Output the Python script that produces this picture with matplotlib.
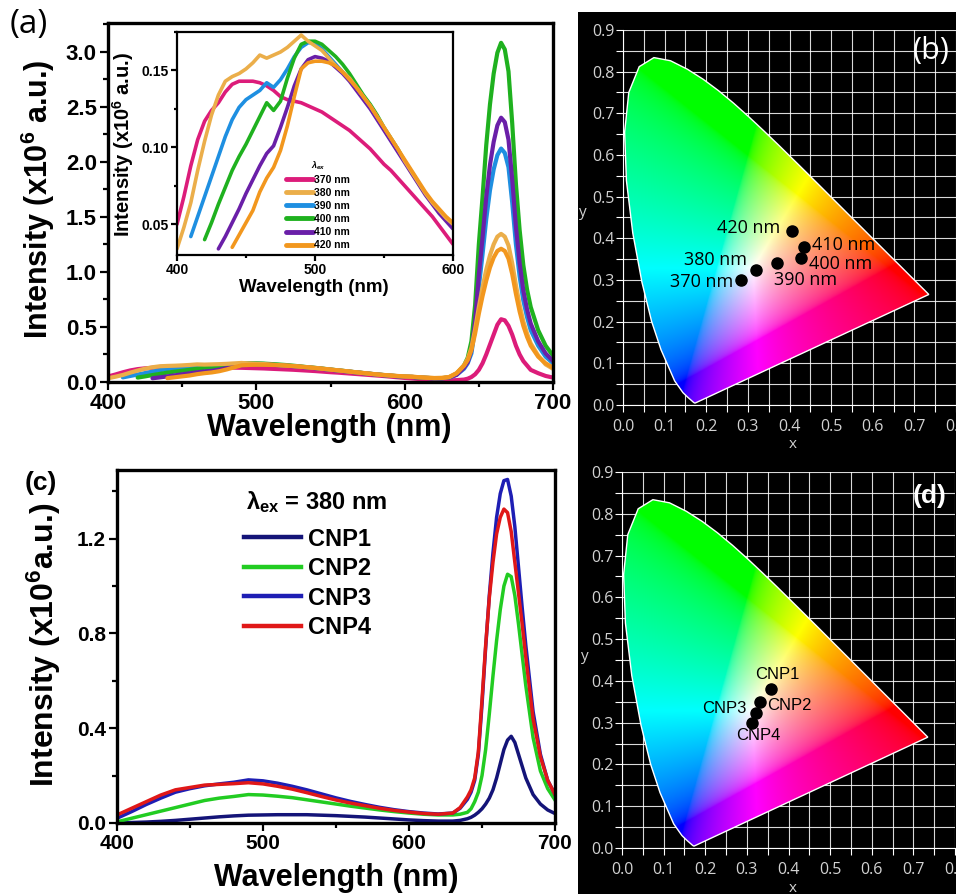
import numpy as np
import matplotlib
matplotlib.use("Agg")
import matplotlib.pyplot as plt
from matplotlib.patches import Polygon, Rectangle
from matplotlib.ticker import MultipleLocator

plt.rcParams['font.family'] = ['Liberation Sans', 'DejaVu Sans']
plt.rcParams['font.weight'] = 'bold'
plt.rcParams['mathtext.fontset'] = 'custom'
plt.rcParams['mathtext.rm'] = 'Liberation Sans'
plt.rcParams['mathtext.bf'] = 'Liberation Sans:bold'
plt.rcParams['mathtext.it'] = 'Liberation Sans:italic'

# ---------------- data: panel (a), PL spectra at different excitation ----------------
ex_labels = ['370 nm', '380 nm', '390 nm', '400 nm', '410 nm', '420 nm']
ex_start = [400, 400, 410, 420, 430, 440]          # first wavelength of each band list (5 nm step up to 600)
band_370 = [0.050, 0.068, 0.088, 0.105, 0.117, 0.124, 0.129, 0.136, 0.141, 0.143, 0.143, 0.143, 0.142, 0.140,
            0.137, 0.133, 0.131, 0.130, 0.129, 0.127, 0.125, 0.123, 0.120, 0.117, 0.114, 0.111, 0.107, 0.103,
            0.099, 0.094, 0.089, 0.085, 0.080, 0.075, 0.070, 0.065, 0.060, 0.055, 0.049, 0.043, 0.037]
band_380 = [0.034, 0.048, 0.064, 0.085, 0.104, 0.121, 0.134, 0.143, 0.146, 0.148, 0.151, 0.155, 0.160, 0.158,
            0.160, 0.162, 0.165, 0.169, 0.173, 0.169, 0.166, 0.163, 0.158, 0.153, 0.149, 0.145, 0.139, 0.133,
            0.127, 0.120, 0.113, 0.106, 0.099, 0.091, 0.084, 0.077, 0.070, 0.064, 0.059, 0.054, 0.050]
band_390 = [0.042, 0.055, 0.068, 0.081, 0.094, 0.107, 0.118, 0.126, 0.131, 0.134, 0.137, 0.142, 0.139, 0.144,
            0.151, 0.159, 0.165, 0.168, 0.168, 0.164, 0.159, 0.154, 0.149, 0.144, 0.138, 0.132, 0.126, 0.119,
            0.112, 0.105, 0.098, 0.091, 0.084, 0.077, 0.070, 0.064, 0.058, 0.053, 0.048]
band_400 = [0.040, 0.051, 0.063, 0.074, 0.085, 0.094, 0.102, 0.111, 0.120, 0.129, 0.124, 0.130, 0.145, 0.158,
            0.167, 0.169, 0.169, 0.167, 0.163, 0.159, 0.154, 0.148, 0.141, 0.134, 0.128, 0.121, 0.113, 0.106,
            0.099, 0.091, 0.084, 0.077, 0.070, 0.064, 0.058, 0.053, 0.049]
band_410 = [0.034, 0.042, 0.051, 0.060, 0.070, 0.079, 0.088, 0.096, 0.101, 0.113, 0.126, 0.140, 0.151, 0.157,
            0.159, 0.158, 0.156, 0.152, 0.148, 0.143, 0.137, 0.131, 0.125, 0.118, 0.111, 0.104, 0.097, 0.090,
            0.083, 0.076, 0.069, 0.063, 0.057, 0.052, 0.047]
band_420 = [0.035, 0.043, 0.051, 0.059, 0.071, 0.080, 0.087, 0.098, 0.114, 0.133, 0.151, 0.155, 0.156, 0.156,
            0.155, 0.153, 0.149, 0.144, 0.139, 0.133, 0.127, 0.120, 0.113, 0.106, 0.099, 0.092, 0.085, 0.078,
            0.071, 0.065, 0.060, 0.055, 0.051]

wl_peak = [605, 610, 615, 620, 625, 630, 635, 640, 642.5, 645, 647.5, 650, 652.5, 655, 657.5, 660, 662.5, 665,
           667.5, 670, 672.5, 675, 677.5, 680, 682.5, 685, 690, 695, 700]
peak_370 = [0.032, 0.027, 0.022, 0.018, 0.016, 0.015, 0.017, 0.022, 0.030, 0.045, 0.070, 0.11, 0.17, 0.25,
            0.34, 0.43, 0.52, 0.57, 0.56, 0.51, 0.43, 0.33, 0.25, 0.19, 0.15, 0.11, 0.08, 0.055, 0.04]
peak_380 = [0.048, 0.043, 0.039, 0.036, 0.037, 0.045, 0.080, 0.15, 0.21, 0.31, 0.48, 0.68, 0.86, 1.02,
            1.15, 1.25, 1.32, 1.345, 1.32, 1.24, 1.08, 0.88, 0.70, 0.55, 0.44, 0.35, 0.24, 0.16, 0.12]
peak_390 = [0.046, 0.041, 0.037, 0.034, 0.034, 0.040, 0.065, 0.12, 0.17, 0.26, 0.49, 0.86, 1.16, 1.48,
            1.74, 1.93, 2.06, 2.12, 2.08, 1.95, 1.63, 1.25, 0.96, 0.74, 0.59, 0.47, 0.33, 0.23, 0.17]
peak_400 = [0.046, 0.041, 0.037, 0.034, 0.034, 0.042, 0.075, 0.15, 0.22, 0.37, 0.70, 1.25, 1.68, 2.15,
            2.52, 2.80, 2.99, 3.08, 3.02, 2.82, 2.35, 1.80, 1.38, 1.06, 0.84, 0.68, 0.47, 0.33, 0.24]
peak_410 = [0.046, 0.041, 0.037, 0.034, 0.034, 0.040, 0.065, 0.13, 0.18, 0.29, 0.55, 0.97, 1.31, 1.68,
            1.97, 2.18, 2.33, 2.40, 2.36, 2.20, 1.84, 1.41, 1.08, 0.83, 0.66, 0.53, 0.37, 0.26, 0.19]
peak_420 = [0.048, 0.043, 0.039, 0.036, 0.037, 0.045, 0.080, 0.15, 0.20, 0.29, 0.44, 0.62, 0.78, 0.92,
            1.04, 1.13, 1.19, 1.21, 1.19, 1.12, 0.98, 0.80, 0.64, 0.51, 0.41, 0.33, 0.23, 0.17, 0.13]

bands = [band_370, band_380, band_390, band_400, band_410, band_420]
peaks = [peak_370, peak_380, peak_390, peak_400, peak_410, peak_420]
ex_colors = ['#DC1C7A', '#EBAE4A', '#1E8FE1', '#1FB11F', '#6A1FA8', '#F2971E']
draw_order = [0, 2, 3, 4, 1, 5]

# ---------------- data: panel (c), CNP1-4 at 380 nm ----------------
wl_c = [400, 410, 420, 430, 440, 450, 460, 470, 480, 490, 500, 510, 520, 530, 540, 550, 560, 570, 580, 590,
        600, 610, 620, 630, 635, 640, 642.5, 645, 647.5, 650, 652.5, 655, 657.5, 660, 662.5, 665, 667.5, 670,
        672.5, 675, 677.5, 680, 685, 690, 695, 700]
cnp_labels = ['CNP1', 'CNP2', 'CNP3', 'CNP4']
cnp1 = [0.0, 0.002, 0.004, 0.007, 0.011, 0.016, 0.021, 0.026, 0.030, 0.033, 0.034, 0.035, 0.035, 0.035, 0.033,
        0.031, 0.028, 0.025, 0.021, 0.017, 0.013, 0.010, 0.008, 0.008, 0.011,
        0.018, 0.024, 0.033, 0.045, 0.06, 0.08, 0.105, 0.14, 0.19, 0.25, 0.31, 0.35, 0.366, 0.34, 0.29, 0.24,
        0.19, 0.12, 0.08, 0.055, 0.04]
cnp2 = [0.005, 0.020, 0.035, 0.050, 0.065, 0.080, 0.095, 0.105, 0.112, 0.120, 0.118, 0.113, 0.107, 0.098, 0.089,
        0.080, 0.071, 0.063, 0.055, 0.048, 0.042, 0.037, 0.034, 0.034, 0.037,
        0.045, 0.06, 0.09, 0.13, 0.20, 0.31, 0.46, 0.62, 0.77, 0.90, 1.00, 1.05, 1.04, 0.96, 0.84, 0.71,
        0.58, 0.36, 0.22, 0.145, 0.097]
cnp3 = [0.020, 0.048, 0.078, 0.105, 0.130, 0.145, 0.157, 0.165, 0.172, 0.182, 0.178, 0.168, 0.155, 0.140, 0.123,
        0.106, 0.091, 0.078, 0.066, 0.056, 0.048, 0.042, 0.038, 0.042, 0.062,
        0.10, 0.13, 0.18, 0.29, 0.50, 0.74, 0.96, 1.14, 1.29, 1.39, 1.445, 1.45, 1.38, 1.25, 1.08, 0.91,
        0.75, 0.47, 0.29, 0.18, 0.12]
cnp4 = [0.034, 0.062, 0.090, 0.118, 0.140, 0.150, 0.160, 0.163, 0.166, 0.170, 0.165, 0.155, 0.143, 0.128, 0.112,
        0.097, 0.084, 0.073, 0.062, 0.053, 0.046, 0.040, 0.037, 0.042, 0.065,
        0.11, 0.14, 0.19, 0.30, 0.52, 0.75, 0.95, 1.10, 1.22, 1.29, 1.325, 1.31, 1.23, 1.10, 0.97, 0.84,
        0.70, 0.44, 0.28, 0.18, 0.12]
cnp_series = [cnp1, cnp2, cnp3, cnp4]
cnp_colors = ['#141478', '#22CC22', '#1E1EB4', '#E01818']

# ---------------- data: CIE 1931 spectral locus and colour coordinates ----------------
locus_x = [0.1741, 0.1738, 0.1733, 0.1726, 0.1714, 0.1689, 0.1644, 0.1566, 0.1440, 0.1241, 0.0913, 0.0687,
           0.0454, 0.0235, 0.0082, 0.0039, 0.0139, 0.0389, 0.0743, 0.1142, 0.1547, 0.1929, 0.2296, 0.2658,
           0.3016, 0.3373, 0.3731, 0.4087, 0.4441, 0.4788, 0.5125, 0.5448, 0.5752, 0.6029, 0.6270, 0.6482,
           0.6658, 0.6801, 0.6915, 0.7006, 0.7079, 0.7140, 0.7190, 0.7230, 0.7260, 0.7300, 0.7320, 0.7347]
locus_y = [0.0050, 0.0049, 0.0048, 0.0048, 0.0051, 0.0069, 0.0109, 0.0177, 0.0297, 0.0578, 0.1327, 0.2007,
           0.2950, 0.4127, 0.5384, 0.6548, 0.7502, 0.8120, 0.8338, 0.8262, 0.8059, 0.7816, 0.7543, 0.7243,
           0.6923, 0.6589, 0.6245, 0.5896, 0.5547, 0.5202, 0.4866, 0.4544, 0.4242, 0.3965, 0.3725, 0.3514,
           0.3340, 0.3197, 0.3083, 0.2993, 0.2920, 0.2859, 0.2809, 0.2770, 0.2740, 0.2700, 0.2680, 0.2653]

cie_b_x = [0.283, 0.319, 0.369, 0.427, 0.436, 0.407]
cie_b_y = [0.301, 0.325, 0.341, 0.353, 0.380, 0.418]
cie_d_x = [0.357, 0.331, 0.321, 0.312]
cie_d_y = [0.381, 0.349, 0.324, 0.300]

W, H = 956, 894


def box(l, t, r, b):
    return [l / W, 1 - b / H, (r - l) / W, (b - t) / H]


def fxy(x, y):
    return x / W, 1 - y / H


fig = plt.figure(figsize=(W / 100, H / 100), dpi=100)
fig.add_artist(Rectangle((578 / W, 0), 1 - 578 / W, 1 - 12 / H, transform=fig.transFigure,
                         facecolor='black', edgecolor='none', zorder=-10))


def style_spec(ax, spine_w, fs, maj_len=6, min_len=3.5):
    for s in ax.spines.values():
        s.set_linewidth(spine_w)
    ax.tick_params(which='both', direction='out', top=False, right=False, width=1.6, labelsize=fs, pad=2)
    ax.tick_params(which='major', length=maj_len)
    ax.tick_params(which='minor', length=min_len)


# ---------------- panel (a) ----------------
ax_a = fig.add_axes(box(108, 23, 553, 382))
for i in draw_order:
    x = np.concatenate([np.arange(ex_start[i], 605, 5), wl_peak])
    y = np.concatenate([bands[i], peaks[i]])
    ax_a.plot(x, y, color=ex_colors[i], lw=3, solid_joinstyle='round', solid_capstyle='round')
ax_a.set_xlim(400, 700)
ax_a.set_ylim(0, 3.26)
ax_a.xaxis.set_major_locator(MultipleLocator(100))
ax_a.xaxis.set_minor_locator(MultipleLocator(50))
ax_a.yaxis.set_major_locator(MultipleLocator(0.5))
ax_a.yaxis.set_minor_locator(MultipleLocator(0.25))
ax_a.yaxis.set_major_formatter('{x:.1f}')
style_spec(ax_a, 2.4, 16)

# inset
ax_in = fig.add_axes(box(177, 32, 453, 255))
lines = {}
for i in draw_order:
    x = np.arange(ex_start[i], 605, 5)
    lines[i], = ax_in.plot(x, bands[i], color=ex_colors[i], lw=2.6, solid_joinstyle='round',
                           solid_capstyle='round')
ax_in.set_xlim(400, 600)
ax_in.set_ylim(0.030, 0.175)
ax_in.set_xticks([400, 500, 600])
ax_in.xaxis.set_minor_locator(MultipleLocator(50))
ax_in.set_yticks([0.05, 0.10, 0.15])
ax_in.yaxis.set_minor_locator(MultipleLocator(0.025))
ax_in.yaxis.set_major_formatter('{x:.2f}')
style_spec(ax_in, 1.6, 10, maj_len=4, min_len=2.5)
leg = ax_in.legend([lines[i] for i in range(6)], ex_labels, title=r'$\lambda_{ex}$', loc='upper left',
                   bbox_to_anchor=(0.395, 0.43), frameon=False, fontsize=7.5, title_fontsize=6.5,
                   handlelength=2.6, handletextpad=0.1, labelspacing=0.3, borderpad=0, borderaxespad=0)
for h in leg.get_lines():
    h.set_linewidth(3.5)

fig.text(*fxy(38, 199), r'Intensity (x10$^{\mathbf{6}}$ a.u.)', rotation=90, ha='center', va='center', fontsize=22)
fig.text(*fxy(329, 428), 'Wavelength (nm)', ha='center', va='center', fontsize=22)
fig.text(*fxy(123, 144), r'Intensity (x10$^{\mathbf{6}}$ a.u.)', rotation=90, ha='center', va='center',
         fontsize=14.5)
fig.text(*fxy(314, 288), 'Wavelength (nm)', ha='center', va='center', fontsize=13.5)
fig.text(*fxy(29, 25), '(a)', ha='center', va='center', fontsize=24, fontweight='normal',
         family=['Open Sans', 'DejaVu Sans'])

# ---------------- panel (c) ----------------
ax_c = fig.add_axes(box(117, 470, 555, 823))
for ser, col, lab in zip(cnp_series, cnp_colors, cnp_labels):
    ax_c.plot(wl_c, ser, color=col, lw=2.5, label=lab, solid_joinstyle='round')
ax_c.set_xlim(400, 700)
ax_c.set_ylim(0, 1.49)
ax_c.xaxis.set_major_locator(MultipleLocator(100))
ax_c.xaxis.set_minor_locator(MultipleLocator(50))
ax_c.yaxis.set_major_locator(MultipleLocator(0.4))
ax_c.yaxis.set_minor_locator(MultipleLocator(0.2))
ax_c.yaxis.set_major_formatter('{x:.1f}')
style_spec(ax_c, 2.4, 15)
leg_c = ax_c.legend(loc='upper left', bbox_to_anchor=(0.29, 0.837), frameon=False, fontsize=17,
                    handlelength=2.4, handletextpad=0.3, labelspacing=0.28, borderpad=0, borderaxespad=0)
for h in leg_c.get_lines():
    h.set_linewidth(3.2)
fig.text(*fxy(246, 502), 'λ$_{\\mathbf{ex}}$ = 380 nm', ha='left', va='center', fontsize=17)

fig.text(*fxy(44, 645), r'Intensity (x10$^{\mathbf{6}}$a.u.)', rotation=90, ha='center', va='center', fontsize=23)
fig.text(*fxy(336, 878), 'Wavelength (nm)', ha='center', va='center', fontsize=22)
fig.text(*fxy(41, 483), '(c)', ha='center', va='center', fontsize=19)

# ---------------- CIE panels (b), (d) ----------------
M_xyz = np.array([[3.2406, -1.5372, -0.4986], [-0.9689, 1.8758, 0.0415], [0.0557, -0.2040, 1.0570]])
gray = '#d2d2d2'


def draw_cie(ax):
    ax.set_facecolor('black')
    gx, gy = np.meshgrid(np.linspace(0, 0.8, 400), np.linspace(0, 0.9, 450))
    yy = np.maximum(gy, 1e-3)
    xyz = np.stack([gx / yy, np.ones_like(gx), (1 - gx - gy) / yy], axis=-1)
    rgb = np.clip(xyz @ M_xyz.T, 0, None)
    rgb = rgb / (rgb.max(axis=-1, keepdims=True) + 1e-9)
    rgb = np.where(rgb <= 0.0031308, 12.92 * rgb, 1.055 * rgb ** (1 / 2.4) - 0.055)
    im = ax.imshow(np.clip(rgb, 0, 1), extent=(0, 0.8, 0, 0.9), origin='lower', aspect='auto',
                   interpolation='bilinear', zorder=1)
    poly = Polygon(np.column_stack([locus_x, locus_y]), closed=True, facecolor='none', edgecolor='white',
                   lw=1.0, zorder=2)
    ax.add_patch(poly)
    im.set_clip_path(poly)
    ax.set_xlim(0, 0.8)
    ax.set_ylim(0, 0.9)
    xt = np.round(np.arange(0, 0.81, 0.1), 2)
    yt = np.round(np.arange(0, 0.91, 0.1), 2)
    ax.set_xticks(xt)
    ax.set_xticklabels([f'{v:.1f}' for v in xt], fontweight='normal', family=['Open Sans', 'DejaVu Sans'],
                       fontsize=11.5, color=gray)
    ax.set_yticks(yt)
    ax.set_yticklabels([f'{v:.1f}' for v in yt], fontweight='normal', family=['Open Sans', 'DejaVu Sans'],
                       fontsize=11.5, color=gray)
    ax.xaxis.set_minor_locator(MultipleLocator(0.05))
    ax.yaxis.set_minor_locator(MultipleLocator(0.05))
    ax.set_axisbelow(True)
    ax.grid(which='both', color='white', lw=0.8, alpha=0.85)
    ax.tick_params(which='both', colors='white', labelcolor=gray, length=5, width=0.8)
    ax.tick_params(axis='x', pad=5)
    ax.tick_params(axis='y', pad=1)
    for side in ['top', 'right']:
        ax.spines[side].set_visible(False)
    for side in ['left', 'bottom']:
        ax.spines[side].set_color('white')
        ax.spines[side].set_linewidth(0.8)


ax_b = fig.add_axes(box(623, 30, 956, 405))
draw_cie(ax_b)
ax_b.plot(cie_b_x, cie_b_y, 'o', color='black', ms=8, zorder=4)
b_off = [(-8, -2, 'right'), (-9, 10, 'right'), (-3, -17, 'left'), (8, -6, 'left'), (8, 2, 'left'),
         (-12, 3, 'right')]
for x, y, lab, (dx, dy, ha) in zip(cie_b_x, cie_b_y, ex_labels, b_off):
    ax_b.annotate(lab, (x, y), xytext=(dx, dy), textcoords='offset pixels', ha=ha, va='center',
                  fontsize=13, fontweight='normal', family=['Open Sans', 'DejaVu Sans'], color='black', zorder=5)

ax_d = fig.add_axes(box(622, 472, 955, 848))
draw_cie(ax_d)
ax_d.plot(cie_d_x, cie_d_y, 'o', color='black', ms=8, zorder=4)
d_off = [(7, 14, 'center'), (7, -3, 'left'), (-9, 4, 'right'), (6, -13, 'center')]
for x, y, lab, (dx, dy, ha) in zip(cie_d_x, cie_d_y, cnp_labels, d_off):
    ax_d.annotate(lab, (x, y), xytext=(dx, dy), textcoords='offset pixels', ha=ha, va='center',
                  fontsize=12, fontweight='normal', color='black', zorder=5)

for (x, y), t in zip([(583, 213), (585, 657), (793, 445), (793, 888)], ['y', 'y', 'x', 'x']):
    fig.text(*fxy(x, y), t, ha='center', va='center', fontsize=11, color=gray, fontweight='normal',
             family=['Open Sans', 'DejaVu Sans'])
fig.text(*fxy(931, 51), '(b)', ha='center', va='center', fontsize=22, color='white', fontweight='normal',
         family=['Open Sans', 'DejaVu Sans'])
fig.text(*fxy(930, 496), '(d)', ha='center', va='center', fontsize=19, color='white')

fig.savefig('out.png', dpi=100)
